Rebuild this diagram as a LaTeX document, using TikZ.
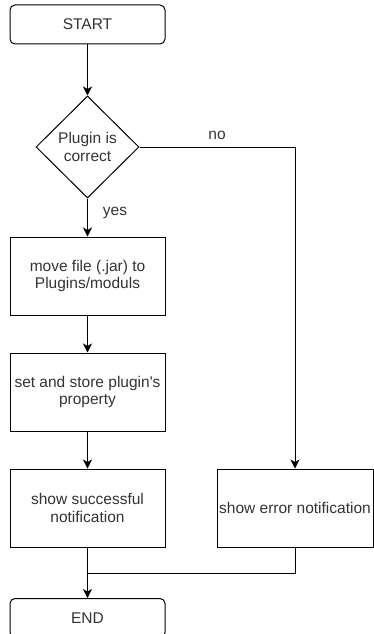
\documentclass[tikz,border=0pt]{standalone}
\usepackage{fontspec}
\setmainfont{Liberation Sans}
\usetikzlibrary{shapes.geometric,arrows.meta}

\begin{document}
\begin{tikzpicture}[x=1pt,y=-1pt,line width=1pt,
		box/.style={draw,rectangle,minimum width=155pt,minimum height=78pt,inner sep=0pt,align=center,text=black!80},
		terminal/.style={draw,rectangle,rounded corners=5pt,minimum width=155pt,minimum height=39pt,inner sep=0pt,text=black!80},
		decision/.style={draw,diamond,aspect=1,minimum width=103pt,minimum height=102pt,inner sep=0pt,align=center,text=black!80},
		lbl/.style={text=black!80},
		arr/.style={-{Stealth[length=9pt,width=9pt,inset=2.5pt]}},
		font=\fontsize{15.5}{17.5}\selectfont]
			\clip (0,0) rectangle (374,634);
			\node[terminal] (start) at (87.5,24.5) {START};
			\node[decision] (check) at (87.5,147) {Plugin is\\correct};
			\node[box] (move) at (87.5,276) {move file (.jar) to\\Plugins/moduls};
			\node[box] (store) at (87.5,392) {set and store plugin\textquotesingle s\\property};
			\node[box] (success) at (87.5,508) {show successful\\notification};
			\node[box,minimum width=156pt] (error) at (295,508) {show error notification};
			\node[terminal] (end) at (87.5,618) {END};
			\coordinate (join) at (87.5,573);
			\draw[arr] (start) -- (check);
			\draw[arr] (check) -- (move);
			\draw[arr] (check.east) -| (error.north);
			\draw[arr] (move) -- (store);
			\draw[arr] (store) -- (success);
			\draw (error.south) |- (join);
			\draw[arr] (success) -- (end);
			\node[lbl] (no) at (217,135) {no};
			\node[lbl] (yes) at (115,213) {yes};
		\end{tikzpicture}
\end{document}
